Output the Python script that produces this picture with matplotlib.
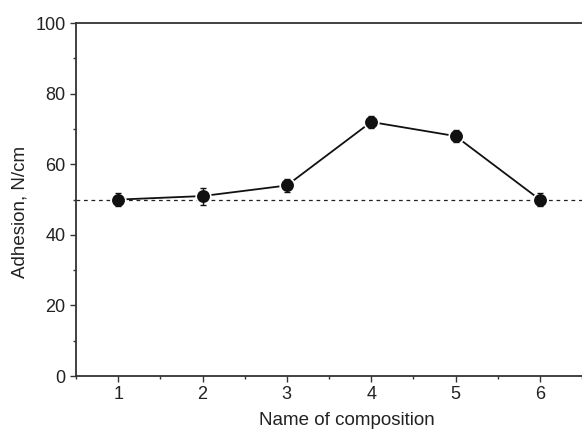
import matplotlib
matplotlib.use("Agg")
import matplotlib.pyplot as plt
from matplotlib.ticker import MultipleLocator

plt.rcParams["font.family"] = ["Liberation Sans", "DejaVu Sans"]

compositions = [1, 2, 3, 4, 5, 6]
adhesion = [50, 51, 54, 72, 68, 50]
errors = [1.8, 2.4, 1.8, 1.8, 1.8, 1.8]
reference_level = 50

fig = plt.figure(figsize=(5.82, 4.29), dpi=100)
ax = fig.add_axes([0.1306, 0.1235, 0.8694, 0.8225])

ax.axhline(reference_level, color="#222222", ls=(0, (3, 3)), lw=0.9, zorder=1)
ax.plot(compositions, adhesion, color="#111111", marker="o", ms=10.5,
        mec="white", mew=1.2, lw=1.3, zorder=3)
ax.errorbar(compositions, adhesion, yerr=errors, fmt="none", ecolor="#111111",
            capsize=2.5, elinewidth=1.0, zorder=4)

ax.set_xlim(0.5, 6.5)
ax.set_ylim(0, 100)
ax.xaxis.set_major_locator(MultipleLocator(1))
ax.xaxis.set_minor_locator(MultipleLocator(0.5))
ax.yaxis.set_major_locator(MultipleLocator(20))
ax.yaxis.set_minor_locator(MultipleLocator(10))

for s in ["left", "bottom", "top"]:
    ax.spines[s].set_linewidth(1.3)
    ax.spines[s].set_color("#333333")
ax.spines["right"].set_visible(False)
ax.tick_params(which="major", length=4, width=1.0, labelsize=13, colors="#333333",
               labelcolor="#222222")
ax.tick_params(which="minor", length=2, width=1.0, colors="#333333")

ax.set_xlabel("Name of composition", fontsize=13.5, color="#222222", labelpad=6)
ax.set_ylabel("Adhesion, N/cm", fontsize=13.5, color="#222222", labelpad=5)
# the original figure's labels sit a bit off the visible axes centre
ax.xaxis.label.set_x(0.536)
ax.yaxis.label.set_y(0.465)

fig.savefig("out.png", dpi=100)
